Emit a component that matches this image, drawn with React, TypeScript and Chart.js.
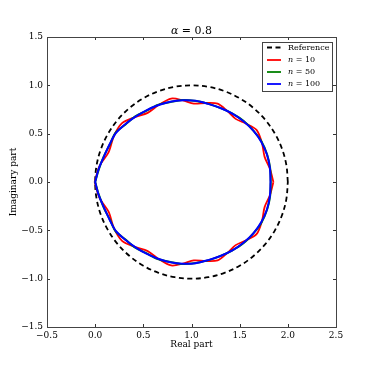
import React, { useEffect, useRef } from "react";
import { Chart, registerables } from "chart.js";

Chart.register(...registerables);

const titleText = ["α", " = 0.8"];
const xLabel = "Real part";
const yLabel = "Imaginary part";
const legendLabels = ["Reference", "n = 10", "n = 50", "n = 100"];

// Reference circle (dashed)
const referencePts: [number, number][] = [
  [2.0, 0.0], [1.985, 0.174], [1.94, 0.342], [1.866, 0.5], [1.766, 0.643], [1.643, 0.766],
  [1.5, 0.866], [1.342, 0.94], [1.174, 0.985], [1.0, 1.0], [0.826, 0.985], [0.658, 0.94],
  [0.5, 0.866], [0.357, 0.766], [0.234, 0.643], [0.134, 0.5], [0.06, 0.342], [0.015, 0.174],
  [0.0, 0.0], [0.015, -0.174], [0.06, -0.342], [0.134, -0.5], [0.234, -0.643], [0.357, -0.766],
  [0.5, -0.866], [0.658, -0.94], [0.826, -0.985], [1.0, -1.0], [1.174, -0.985], [1.342, -0.94],
  [1.5, -0.866], [1.643, -0.766], [1.766, -0.643], [1.866, -0.5], [1.94, -0.342], [1.985, -0.174],
  [2.0, 0.0],
];

// n = 10 (red, wavy)
const n10Pts: [number, number][] = [
  [1.85, 0.0], [1.815, 0.135], [1.759, 0.26], [1.732, 0.401], [1.677, 0.537], [1.568, 0.603],
  [1.458, 0.653], [1.37, 0.736], [1.271, 0.81], [1.144, 0.817], [1.024, 0.811], [0.91, 0.845],
  [0.789, 0.863], [0.659, 0.796], [0.545, 0.715], [0.413, 0.672], [0.279, 0.609], [0.195, 0.478],
  [0.14, 0.31], [0.045, 0.165], [-0.005, 0.0], [-0.005, 0.0],
  [0.045, -0.165], [0.14, -0.31], [0.195, -0.478], [0.279, -0.609], [0.413, -0.672], [0.545, -0.715],
  [0.659, -0.796], [0.789, -0.863], [0.91, -0.845], [1.024, -0.811], [1.144, -0.817], [1.271, -0.81],
  [1.37, -0.736], [1.458, -0.653], [1.568, -0.603], [1.677, -0.537], [1.732, -0.401], [1.759, -0.26],
  [1.815, -0.135], [1.85, 0.0],
];

// n = 50 (green)
const n50Pts: [number, number][] = [
  [1.823, 0.0], [1.816, 0.145], [1.786, 0.282], [1.727, 0.418], [1.644, 0.529], [1.542, 0.632],
  [1.421, 0.71], [1.303, 0.764], [1.17, 0.811], [1.046, 0.838], [0.907, 0.848], [0.782, 0.827],
  [0.649, 0.797], [0.535, 0.739], [0.416, 0.679], [0.315, 0.595], [0.211, 0.509], [0.152, 0.388],
  [0.088, 0.262], [0.037, 0.128], [0.0, 0.0], [0.0, 0.0],
  [0.037, -0.128], [0.088, -0.262], [0.152, -0.388], [0.211, -0.509], [0.315, -0.595], [0.416, -0.679],
  [0.535, -0.739], [0.649, -0.797], [0.782, -0.827], [0.907, -0.848], [1.046, -0.838], [1.17, -0.811],
  [1.303, -0.764], [1.421, -0.71], [1.542, -0.632], [1.644, -0.529], [1.727, -0.418], [1.786, -0.282],
  [1.816, -0.145], [1.823, 0.0],
];

// n = 100 (blue)
const n100Pts: [number, number][] = [
  [1.82, 0.0], [1.814, 0.143], [1.783, 0.284], [1.725, 0.415], [1.642, 0.532], [1.539, 0.629],
  [1.424, 0.708], [1.3, 0.766], [1.173, 0.808], [1.043, 0.84], [0.91, 0.845], [0.779, 0.83],
  [0.652, 0.794], [0.532, 0.742], [0.419, 0.676], [0.312, 0.598], [0.214, 0.506], [0.15, 0.39],
  [0.09, 0.26], [0.035, 0.13], [0.0, 0.0], [0.0, 0.0],
  [0.035, -0.13], [0.09, -0.26], [0.15, -0.39], [0.214, -0.506], [0.312, -0.598], [0.419, -0.676],
  [0.532, -0.742], [0.652, -0.794], [0.779, -0.83], [0.91, -0.845], [1.043, -0.84], [1.173, -0.808],
  [1.3, -0.766], [1.424, -0.708], [1.539, -0.629], [1.642, -0.532], [1.725, -0.415], [1.783, -0.284],
  [1.814, -0.143], [1.82, 0.0],
];

const xRange = [-0.5, 2.5];
const yRange = [-1.5, 1.5];
const tickStep = 0.5;

const SERIF = "'DejaVu Serif', serif";
const toXY = (pts: [number, number][]) => pts.map(([x, y]) => ({ x, y }));
const fmt = (v: number) => v.toFixed(1).replace("-", "\u2212");

const decorPlugin = {
  id: "decor",
  afterDatasetsDraw(chart: any) {
    const { ctx, chartArea } = chart;
    const { left, right, top, bottom } = chartArea;
    ctx.save();
    // inner tick marks
    ctx.strokeStyle = "#333";
    ctx.lineWidth = 1;
    const tl = 3;
    chart.scales.x.ticks.forEach((t: any) => {
      const px = Math.round(chart.scales.x.getPixelForValue(t.value)) + 0.5;
      ctx.beginPath();
      ctx.moveTo(px, bottom);
      ctx.lineTo(px, bottom - tl);
      ctx.moveTo(px, top);
      ctx.lineTo(px, top + tl);
      ctx.stroke();
    });
    chart.scales.y.ticks.forEach((t: any) => {
      const py = Math.round(chart.scales.y.getPixelForValue(t.value)) + 0.5;
      ctx.beginPath();
      ctx.moveTo(left, py);
      ctx.lineTo(left + tl, py);
      ctx.moveTo(right, py);
      ctx.lineTo(right - tl, py);
      ctx.stroke();
    });
    // frame
    ctx.strokeStyle = "#444";
    ctx.lineWidth = 1;
    ctx.strokeRect(Math.round(left) + 0.5, Math.round(top) + 0.5, Math.round(right - left), Math.round(bottom - top));

    // title
    ctx.fillStyle = "#000";
    ctx.textBaseline = "alphabetic";
    const cx = (left + right) / 2;
    ctx.font = `italic 11px ${SERIF}`;
    const w1 = ctx.measureText(titleText[0]).width;
    ctx.font = `11px ${SERIF}`;
    const w2 = ctx.measureText(titleText[1]).width;
    const sx = cx - (w1 + w2) / 2;
    ctx.textAlign = "left";
    ctx.font = `italic 11px ${SERIF}`;
    ctx.fillText(titleText[0], sx, 34);
    ctx.font = `11px ${SERIF}`;
    ctx.fillText(titleText[1], sx + w1, 34);

    // axis titles
    ctx.font = `9px ${SERIF}`;
    ctx.textAlign = "center";
    ctx.textBaseline = "middle";
    ctx.fillText(xLabel, cx, 345);
    ctx.save();
    ctx.translate(14, (top + bottom) / 2);
    ctx.rotate(-Math.PI / 2);
    ctx.fillText(yLabel, 0, 0);
    ctx.restore();

    // legend
    const lx = 262, ly = 42, lw = 70, lh = 49;
    ctx.fillStyle = "#fff";
    ctx.fillRect(lx, ly, lw, lh);
    ctx.strokeStyle = "#444";
    ctx.lineWidth = 1;
    ctx.strokeRect(lx + 0.5, ly + 0.5, lw, lh);
    const rows = [47.5, 60, 72, 84];
    const colors = ["#000000", "#ff0000", "#008000", "#0000ff"];
    rows.forEach((ry, i) => {
      ctx.beginPath();
      ctx.strokeStyle = colors[i];
      ctx.lineWidth = 1.8;
      ctx.setLineDash(i === 0 ? [5, 3.5] : []);
      ctx.moveTo(267, ry);
      ctx.lineTo(281, ry);
      ctx.stroke();
      ctx.setLineDash([]);
      ctx.fillStyle = "#000";
      ctx.textAlign = "left";
      ctx.textBaseline = "middle";
      if (i === 0) {
        ctx.font = `8px ${SERIF}`;
        ctx.fillText(legendLabels[0], 288, ry);
      } else {
        const label = legendLabels[i];
        ctx.font = `italic 8px ${SERIF}`;
        ctx.fillText(label.slice(0, 1), 288, ry);
        const wn = ctx.measureText(label.slice(0, 1)).width;
        ctx.font = `8px ${SERIF}`;
        ctx.fillText(label.slice(1), 288 + wn, ry);
      }
    });
    ctx.restore();
  },
};

export default function App() {
  const ref = useRef<HTMLCanvasElement | null>(null);
  useEffect(() => {
    document.body.style.margin = "0";
    const canvas = ref.current;
    if (!canvas) return;
    const tickFont = { family: SERIF, size: 9 };
    const chart = new Chart(canvas, {
      type: "scatter",
      data: {
        datasets: [
          {
            label: legendLabels[3],
            data: toXY(n100Pts),
            showLine: true,
            borderColor: "#0000ff",
            borderWidth: 2,
            pointRadius: 0,
            tension: 0.3,
            order: 1,
          },
          {
            label: legendLabels[2],
            data: toXY(n50Pts),
            showLine: true,
            borderColor: "#008000",
            borderWidth: 2,
            pointRadius: 0,
            tension: 0.3,
            order: 2,
          },
          {
            label: legendLabels[1],
            data: toXY(n10Pts),
            showLine: true,
            borderColor: "#ff0000",
            borderWidth: 1.8,
            pointRadius: 0,
            tension: 0.3,
            order: 3,
          },
          {
            label: legendLabels[0],
            data: toXY(referencePts),
            showLine: true,
            borderColor: "#000000",
            borderWidth: 1.8,
            borderDash: [5, 3.5],
            pointRadius: 0,
            tension: 0.35,
            order: 4,
          },
        ],
      } as any,
      options: {
        animation: false,
        responsive: false,
        devicePixelRatio: 1,
        layout: { padding: { left: 0, right: 38, top: 37, bottom: 0 } },
        plugins: {
          legend: { display: false },
          tooltip: { enabled: false },
          title: { display: false },
        },
        scales: {
          x: {
            type: "linear",
            min: xRange[0],
            max: xRange[1],
            ticks: { stepSize: tickStep, font: tickFont, color: "#000", padding: 3, maxRotation: 0, callback: (v: any) => fmt(Number(v)) },
            grid: { display: false, drawTicks: false },
            border: { display: false },
            afterFit: (s: any) => { s.height = 47; },
          },
          y: {
            type: "linear",
            min: yRange[0],
            max: yRange[1],
            ticks: { stepSize: tickStep, font: tickFont, color: "#000", padding: 4, callback: (v: any) => fmt(Number(v)) },
            grid: { display: false, drawTicks: false },
            border: { display: false },
            afterFit: (s: any) => { s.width = 47; },
          },
        },
      } as any,
      plugins: [decorPlugin],
    });
    return () => chart.destroy();
  }, []);
  return <canvas ref={ref} width={374} height={374} style={{ display: "block" }} />;
}
